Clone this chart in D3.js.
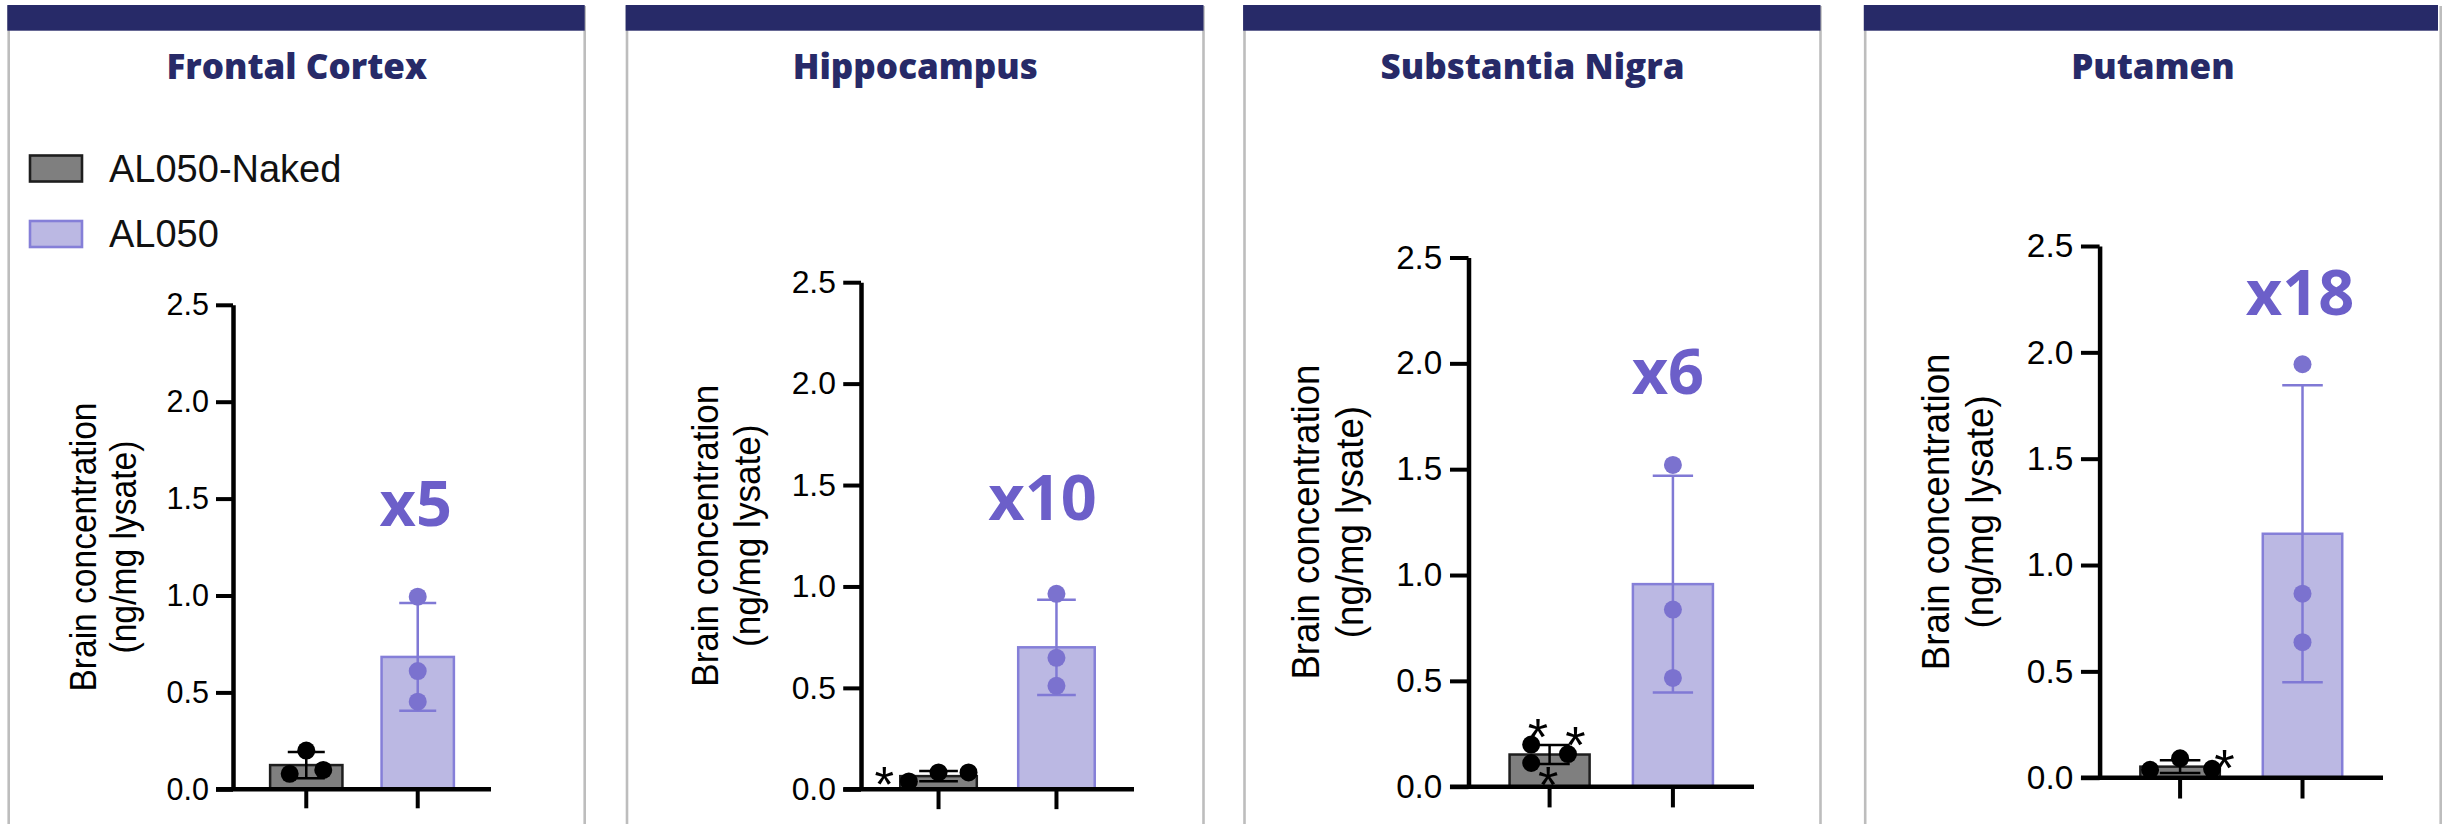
<!DOCTYPE html>
<html>
<head>
<meta charset="utf-8">
<script src="https://cdn.jsdelivr.net/npm/d3@7"></script>
<style>
  html, body { margin: 0; padding: 0; background: #ffffff; }
  svg { display: block; }
</style>
</head>
<body>
<script>
// ---------------- DATA ----------------
const panels = ["Frontal Cortex", "Hippocampus", "Substantia Nigra", "Putamen"];
const groups = ["AL050-Naked", "AL050"];
const yTicks = [0, 0.5, 1.0, 1.5, 2.0, 2.5];
const yLabelLines = ["Brain concentration", "(ng/mg lysate)"];

const nakedMean   = [0.125, 0.065, 0.152, 0.052];
const nakedSD     = [0.068, 0.025, 0.045, 0.030];
const nakedPoints = [[0.08, 0.20, 0.10], [0.039, 0.083, 0.083], [0.199, 0.112, 0.154], [0.037, 0.091, 0.042]];

const al050Mean   = [0.683, 0.700, 0.957, 1.147];
const al050SD     = [0.278, 0.235, 0.512, 0.698];
const al050Points = [[0.994, 0.610, 0.452], [0.964, 0.648, 0.510], [1.520, 0.837, 0.514], [1.944, 0.865, 0.637]];

const foldLabels  = ["x5", "x10", "x6", "x18"];
const foldLabelY  = [1.36, 1.33, 1.857, 2.175];        // value-axis anchor of the fold label
const asteriskY   = [[], [0.083], [0.291, 0.254, 0.067], [0.106]];

// ---------------- LAYOUT (positions / styles only) ----------------
const layout = [
  {left: 8.7,    right: 584.7,  axisX: 233,    y0: 789.3, yTop: 304.8, xEnd: 491,  k: 1.000, jitter: [-16.6, 0, 17],      foldDx: -2,   starDx: []},
  {left: 627,    right: 1203.5, axisX: 861,    y0: 789.3, yTop: 282.2, xEnd: 1134, k: 1.045, jitter: [-29.7, 0, 30],      foldDx: -14,  starDx: [-54.3]},
  {left: 1244.5, right: 1820.5, axisX: 1468.5, y0: 786.7, yTop: 257.5, xEnd: 1754, k: 1.090, jitter: [-18.4, -18.4, 18.4], foldDx: -5,   starDx: [-11.7, 25.9, -1.4]},
  {left: 1865.2, right: 2440.7, axisX: 2099.6, y0: 777.7, yTop: 246,   xEnd: 2383, k: 1.096, jitter: [-30, 0, 32],        foldDx: -2.5, starDx: [44.4]}
];

const C = {
  navy: "#272a68",
  border: "#bdbdbd",
  grayFill: "#7f7f7f",
  grayStroke: "#1e1e1e",
  purpleFill: "#bbb8e3",
  purpleStroke: "#857fd8",
  purpleDot: "#7b72cf",
  purpleErr: "#8079d5",
  fold: "#6c5fc9"
};
const SANS = "'Liberation Sans', Arial, Helvetica, sans-serif";
const TITLE = "'Open Sans', 'DejaVu Sans', sans-serif";

const W = 2443, H = 824;
const svg = d3.select("body").append("svg").attr("width", W).attr("height", H);

panels.forEach((name, i) => {
  const L = layout[i];
  const k = L.k;
  const g = svg.append("g");

  // panel frame
  g.append("line").attr("x1", L.left).attr("x2", L.left).attr("y1", 6).attr("y2", H)
    .attr("stroke", C.border).attr("stroke-width", 2.6);
  g.append("line").attr("x1", L.right).attr("x2", L.right).attr("y1", 6).attr("y2", H)
    .attr("stroke", C.border).attr("stroke-width", 2.6);
  g.append("rect").attr("x", L.left - 1.4).attr("y", 5)
    .attr("width", Math.min(L.right, 2438) - L.left + 1.4).attr("height", 25.7)
    .attr("fill", C.navy);

  // title
  g.append("text").attr("x", (L.left + L.right) / 2).attr("y", 79)
    .attr("text-anchor", "middle").attr("font-family", TITLE).attr("font-weight", 800)
    .attr("font-size", 35).attr("fill", C.navy).text(name);

  // scales
  const y = d3.scaleLinear().domain([0, 2.5]).range([L.y0, L.yTop]);
  const x = d3.scaleBand().domain(groups).range([L.axisX, L.xEnd])
    .paddingInner(0.351).paddingOuter(0.333);
  const bw = x.bandwidth();
  const cx = gname => x(gname) + bw / 2;

  // bars
  const barData = [
    {grp: groups[0], mean: nakedMean[i], sd: nakedSD[i], pts: nakedPoints[i], fill: C.grayFill, stroke: C.grayStroke, dot: "#000", err: "#000", jit: L.jitter},
    {grp: groups[1], mean: al050Mean[i], sd: al050SD[i], pts: al050Points[i], fill: C.purpleFill, stroke: C.purpleStroke, dot: C.purpleDot, err: C.purpleErr, jit: [0, 0, 0]}
  ];

  g.selectAll("rect.bar").data(barData).join("rect").attr("class", "bar")
    .attr("x", d => x(d.grp)).attr("width", bw)
    .attr("y", d => y(d.mean)).attr("height", d => y(0) - y(d.mean))
    .attr("fill", d => d.fill).attr("stroke", d => d.stroke).attr("stroke-width", 2.5);

  // error bars
  const capW = 37 * k;
  barData.forEach(d => {
    const c = cx(d.grp);
    const eg = g.append("g").attr("stroke", d.err).attr("stroke-width", 2.5).attr("fill", "none");
    eg.append("line").attr("x1", c).attr("x2", c).attr("y1", y(d.mean - d.sd)).attr("y2", y(d.mean + d.sd));
    [d.mean - d.sd, d.mean + d.sd].forEach(v => {
      eg.append("line").attr("x1", c - capW / 2).attr("x2", c + capW / 2).attr("y1", y(v)).attr("y2", y(v));
    });
  });

  // points
  barData.forEach(d => {
    const c = cx(d.grp);
    g.selectAll(null).data(d.pts).join("circle")
      .attr("cx", (v, j) => c + d.jit[j]).attr("cy", v => y(v)).attr("r", 9)
      .attr("fill", d.dot);
  });

  // asterisks
  const starFs = 48 * k;
  g.selectAll(null).data(asteriskY[i]).join("text")
    .attr("x", (v, j) => cx(groups[0]) + L.starDx[j])
    .attr("y", v => y(v) + 0.58 * starFs)
    .attr("text-anchor", "middle").attr("font-family", SANS).attr("font-size", starFs)
    .attr("fill", "#000").text("*");

  // y axis
  const yAxis = d3.axisLeft(y).tickValues(yTicks).tickFormat(d3.format(".1f"))
    .tickSize(17 * k).tickSizeOuter(0).tickPadding(7 * k);
  const ya = g.append("g").attr("transform", `translate(${L.axisX},0)`).call(yAxis);
  ya.select(".domain").attr("stroke", "#000").attr("stroke-width", 4.5);
  ya.selectAll(".tick line").attr("stroke", "#000").attr("stroke-width", 4);
  ya.selectAll(".tick text").attr("font-family", SANS).attr("font-size", 30.5 * k).attr("fill", "#000");

  // x axis
  const xAxis = d3.axisBottom(x).tickFormat("").tickSize(19 * k).tickSizeOuter(0);
  const xa = g.append("g").attr("transform", `translate(0,${L.y0})`).call(xAxis);
  xa.select(".domain").remove();
  xa.selectAll(".tick line").attr("stroke", "#000").attr("stroke-width", 4);
  g.append("line").attr("x1", L.axisX - 17 * k).attr("x2", L.xEnd)
    .attr("y1", L.y0).attr("y2", L.y0).attr("stroke", "#000").attr("stroke-width", 4.5);

  // y label (condensed, as in the reference)
  const cy = (L.y0 + L.yTop) / 2;
  const lab = [{off: 137, len: 289}, {off: 97, len: 213}];
  lab.forEach((o, j) => {
    g.append("text").attr("transform", `translate(${L.axisX - o.off * k},${cy}) rotate(-90)`)
      .attr("text-anchor", "middle").attr("font-family", SANS).attr("font-size", 36 * k)
      .attr("textLength", o.len * k).attr("lengthAdjust", "spacingAndGlyphs")
      .attr("fill", "#000").text(yLabelLines[j]);
  });

  // fold-change label
  g.append("text").attr("x", cx(groups[1]) + L.foldDx).attr("y", y(foldLabelY[i]))
    .attr("text-anchor", "middle").attr("font-family", TITLE).attr("font-weight", 700)
    .attr("font-size", 63).attr("fill", C.fold).text(foldLabels[i]);
});

// legend (first panel only)
const legend = svg.append("g");
const legendStyle = [
  {fill: C.grayFill, stroke: C.grayStroke},
  {fill: C.purpleFill, stroke: C.purpleStroke}
];
groups.forEach((gname, j) => {
  const top = j === 0 ? 155.5 : 221;
  legend.append("rect").attr("x", 30).attr("y", top).attr("width", 52).attr("height", 26)
    .attr("fill", legendStyle[j].fill).attr("stroke", legendStyle[j].stroke).attr("stroke-width", 2.6);
  legend.append("text").attr("x", 109).attr("y", top + 26).attr("font-family", SANS)
    .attr("font-size", 38).attr("fill", "#111").text(gname);
});
</script>
</body>
</html>
